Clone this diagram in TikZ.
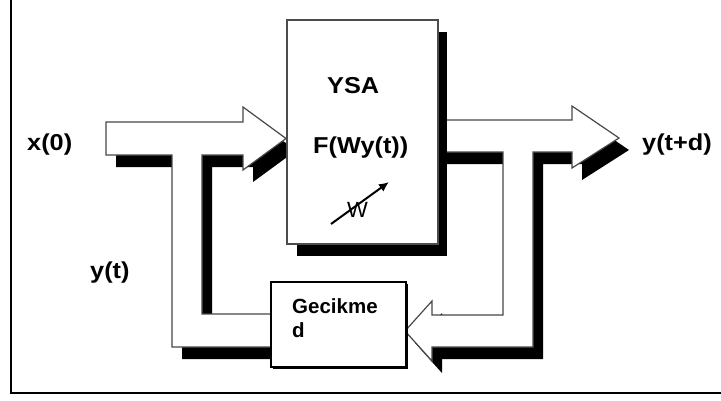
\documentclass[tikz,border=0pt]{standalone}
\usepackage{fontspec}
\setmainfont{Liberation Sans}
\newfontfamily\labfont[FakeStretch=1.1]{Liberation Sans}
\usetikzlibrary{arrows.meta}

\tikzset{
  pipe/.style={fill=white, draw=black!72, line width=1.2pt, line join=miter},
  mainbox/.style={fill=white, draw=black!70, line width=1.5pt},
  delaybox/.style={fill=white, draw=black, line width=1.8pt},
  lab/.style={inner sep=0pt, anchor=base west, font=\labfont\bfseries\fontsize{23}{27}\selectfont},
  plain/.style={inner sep=0pt, anchor=base west, font=\bfseries\fontsize{20.5}{24}\selectfont},
}

\begin{document}
\begin{tikzpicture}[x=1pt, y=-1pt]
\useasboundingbox (0,0) rectangle (721,400);

% frame
\draw[line width=2pt] (11,0) -- (11,393) -- (721,393);

% output arrow with the feedback pipe that turns back to the delay block
\def\outshape{(437,120) -- (572,120) -- (572,106) -- (619,138) -- (572,168) -- (572,152)
  -- (533,152) -- (533,347) -- (432,347) -- (432,361) -- (405,331) -- (432,301)
  -- (432,315) -- (503,315) -- (503,152) -- (437,152) -- cycle}
\fill[black, shift={(10,12)}] \outshape;
\draw[pipe] \outshape;

% input arrow joined by the pipe coming from the delay block
\def\inshape{(106,122) -- (243,122) -- (243,107) -- (286,138.5) -- (243,170) -- (243,155)
  -- (202,155) -- (202,314) -- (274,314) -- (274,347) -- (172,347) -- (172,155)
  -- (106,155) -- cycle}
\fill[black, shift={(10,12)}] \inshape;
\draw[pipe] \inshape;

% network block
\fill[black] (297,32) rectangle (447,256);
\node[mainbox, minimum width=151pt, minimum height=224pt, inner sep=0pt, anchor=north west]
  (ysa) at (286,19) {};

% delay block
\fill[black] (273,284) rectangle (408,369);
\node[delaybox, minimum width=135pt, minimum height=85pt, inner sep=0pt, anchor=north west]
  (gec) at (270,281) {};

% labels
\node[lab] (xin)  at (27,150)  {x(0)};
\node[lab] (yout) at (642,150) {y(t+d)};
\node[lab] (yt)   at (90,278)  {y(t)};
\node[lab] (ysat) at (327,93)  {YSA};
\node[lab] (fwy)  at (313,153) {F(Wy(t))};
\node[plain] (gect) at (292,313) {Gecikme};
\node[plain] (gecd) at (292,337) {d};
\node[inner sep=0pt, anchor=base west, font=\fontsize{22}{24}\selectfont] (wt) at (347,217) {W};

% adjustable weights
\coordinate (wa) at (331,224);
\coordinate (wb) at (389,182);
\draw[line width=2pt, -{Latex[length=10pt,width=9pt]}] (wa) -- (wb);
\end{tikzpicture}
\end{document}
